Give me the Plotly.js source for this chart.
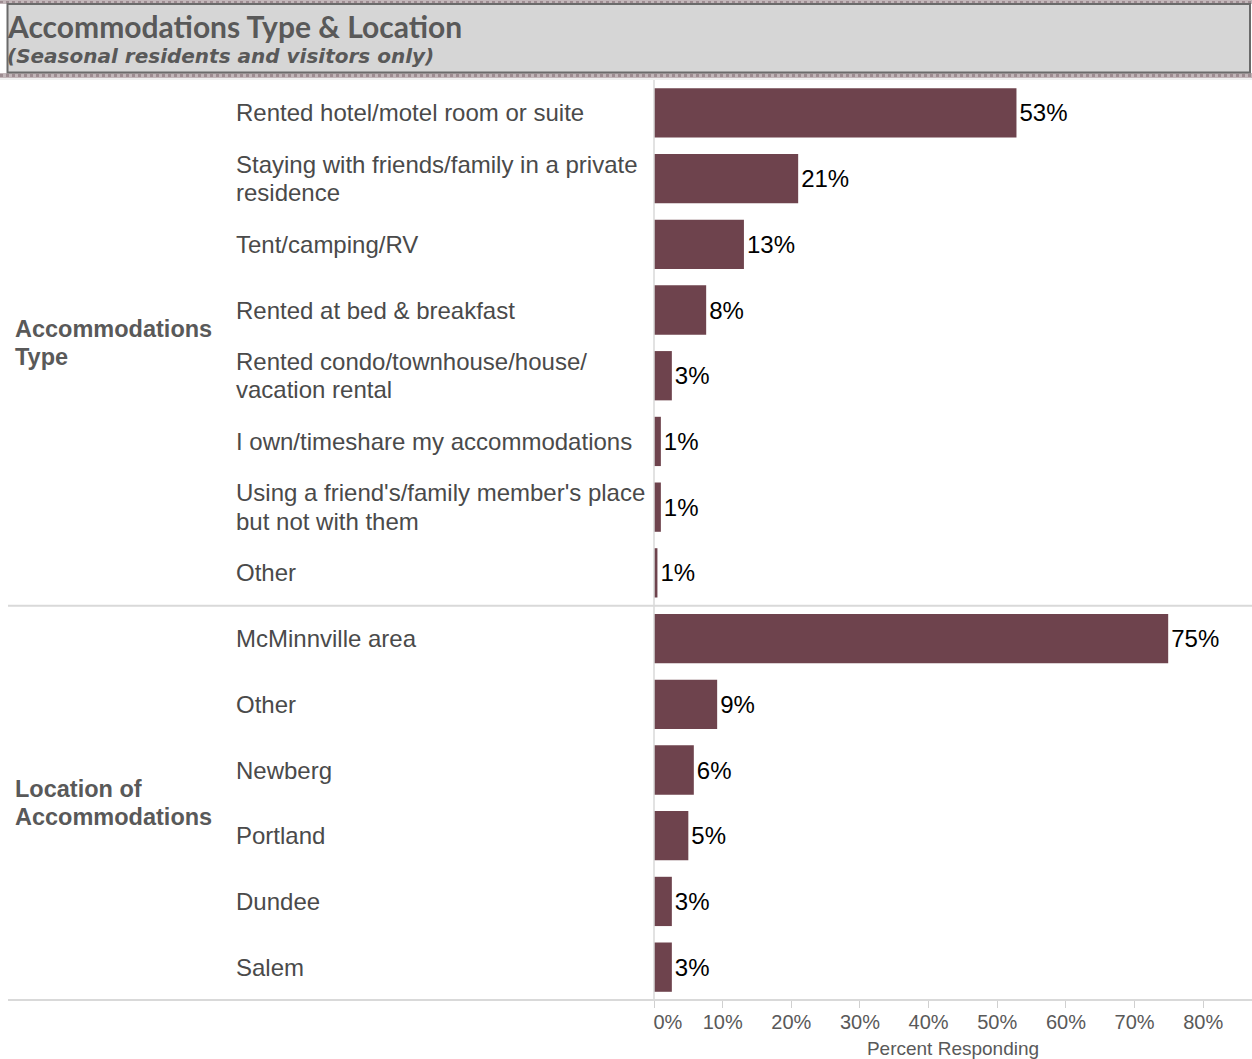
<!DOCTYPE html>
<html>
<head>
<meta charset="utf-8">
<script src="https://cdn.plot.ly/plotly-3.0.1.min.js"></script>
<style>
html,body{margin:0;padding:0;background:#fff;}
#chart{width:1252px;height:1059px;}
</style>
</head>
<body>
<div id="chart"></div>
<script>
// ---- Data ----
const groupNames = ["Accommodations<br>Type", "Location of<br>Accommodations"];
const accomCats = [
  "Rented hotel/motel room or suite",
  "Staying with friends/family in a private<br>residence",
  "Tent/camping/RV",
  "Rented at bed & breakfast",
  "Rented condo/townhouse/house/<br>vacation rental",
  "I own/timeshare my accommodations",
  "Using a friend's/family member's place<br>but not with them",
  "Other"
];
const accomVals = [52.8, 21.0, 13.1, 7.6, 2.6, 1.0, 1.0, 0.5];
const accomLabels = ["53%", "21%", "13%", "8%", "3%", "1%", "1%", "1%"];
const locCats = ["McMinnville area", "Other", "Newberg", "Portland", "Dundee", "Salem"];
const locVals = [74.9, 9.2, 5.8, 5.0, 2.6, 2.6];
const locLabels = ["75%", "9%", "6%", "5%", "3%", "3%"];
const xTickVals = [0, 10, 20, 30, 40, 50, 60, 70, 80];
const xTickText = ["0%", "10%", "20%", "30%", "40%", "50%", "60%", "70%", "80%"];

// ---- Build ----
const W = 1252, H = 1059;
const ML = 654, MR = 0, MT = 80, MB = 59;
const PW = W - ML - MR, PH = H - MT - MB;
const ROW = PH / (accomCats.length + locCats.length);
const px2x = p => (p - ML) / PW;
const py2y = p => (H - MB - p) / PH;

const cats = accomCats.concat(locCats);
const vals = accomVals.concat(locVals);
const labs = accomLabels.concat(locLabels);
const ypos = cats.map((c, i) => i);

const barColor = "#6e434d";
const labelFont = "Liberation Sans, Arial, sans-serif";

const trace = {
  type: "bar",
  orientation: "h",
  x: vals,
  y: ypos,
  width: 0.75,
  marker: {color: barColor},
  text: labs,
  texttemplate: "%{text}",
  textposition: "outside",
  textfont: {family: labelFont, size: 24, color: "#000"},
  cliponaxis: false,
  hoverinfo: "skip"
};

const annotations = [];
const lineGap = 28.5 / ROW; // spacing between wrapped lines, in row units
cats.forEach((c, i) => {
  const lines = c.split("<br>");
  lines.forEach((ln, j) => {
    const off = (j - (lines.length - 1) / 2) * lineGap;
    annotations.push({
      xref: "paper", yref: "y", x: px2x(234), y: i + off,
      xanchor: "left", yanchor: "middle", align: "left",
      text: ln, showarrow: false,
      font: {family: labelFont, size: 24, color: "#4a4a4a"}
    });
  });
});
const groupY = [(accomCats.length - 1) / 2, accomCats.length + (locCats.length - 1) / 2];
groupNames.forEach((g, k) => {
  const lines = g.split("<br>");
  lines.forEach((ln, j) => {
    const off = (j - (lines.length - 1) / 2) * lineGap;
    annotations.push({
      xref: "paper", yref: "y", x: px2x(13), y: groupY[k] + off,
      xanchor: "left", yanchor: "middle", align: "left",
      text: "<b>" + ln + "</b>", showarrow: false,
      font: {family: labelFont, size: 23.5, color: "#595959"}
    });
  });
});
// header title
annotations.push({
  xref: "paper", yref: "paper", x: px2x(5), y: py2y(26),
  xanchor: "left", yanchor: "middle", align: "left",
  text: "<b>Accommodations Type &amp; Location</b>", showarrow: false,
  font: {family: "Lato, sans-serif", size: 30, color: "#595959"}
});
annotations.push({
  xref: "paper", yref: "paper", x: px2x(5), y: py2y(56),
  xanchor: "left", yanchor: "middle", align: "left",
  text: "<b><i>(Seasonal residents and visitors only)</i></b>", showarrow: false,
  font: {family: "DejaVu Sans, sans-serif", size: 20, color: "#595959"}
});

const sepY = accomCats.length - 0.5;
const shapes = [
  // hatched strips
  {type: "rect", xref: "paper", yref: "paper", x0: px2x(0), x1: px2x(1252), y0: py2y(0), y1: py2y(4), fillcolor: "#c2b6b9", line: {width: 0}, layer: "below"},
  {type: "rect", xref: "paper", yref: "paper", x0: px2x(0), x1: px2x(1252), y0: py2y(73), y1: py2y(78), fillcolor: "#c2b6b9", line: {width: 0}, layer: "below"},
  {type: "line", xref: "paper", yref: "paper", x0: px2x(0), x1: px2x(1252), y0: py2y(2), y1: py2y(2), line: {color: "#9d8c91", width: 2, dash: "dot"}},
  {type: "line", xref: "paper", yref: "paper", x0: px2x(0), x1: px2x(1252), y0: py2y(75.5), y1: py2y(75.5), line: {color: "#9d8c91", width: 3, dash: "dot"}},
  // header box
  {type: "rect", xref: "paper", yref: "paper", x0: px2x(7.5), x1: px2x(1250), y0: py2y(4), y1: py2y(72.5), fillcolor: "#d6d6d6", line: {color: "#6a6a6a", width: 2}},
  // light line under header
  {type: "line", xref: "paper", yref: "paper", x0: px2x(0), x1: px2x(1252), y0: py2y(79), y1: py2y(79), line: {color: "#e0e0e0", width: 1}},
  // group separator
  {type: "line", xref: "paper", yref: "y", x0: px2x(8), x1: 1, y0: sepY, y1: sepY, line: {color: "#d9d9d9", width: 2}},
  // bottom line
  {type: "line", xref: "paper", yref: "paper", x0: px2x(8), x1: 1, y0: 0, y1: 0, line: {color: "#d9d9d9", width: 2}},
  // vertical zero line
  {type: "line", xref: "paper", yref: "paper", x0: 0, x1: 0, y0: 0, y1: 1, line: {color: "#d9d9d9", width: 1.5}}
];

// first tick label sits right of the axis line, as in the reference
const tickText = xTickText.map((t, i) => i === 0 ? "\u00a0\u00a0\u00a0\u00a0\u00a0" + t : t);

const layout = {
  width: W, height: H,
  margin: {l: ML, r: MR, t: MT, b: MB, pad: 0},
  paper_bgcolor: "#fff", plot_bgcolor: "#fff",
  showlegend: false,
  xaxis: {
    range: [0, PW / 68.65 * 10],
    tickvals: xTickVals, ticktext: tickText,
    showgrid: false, zeroline: false, showline: false,
    ticks: "outside", ticklen: 7, tickcolor: "#d0d0d0", tickwidth: 1,
    ticklabelstandoff: -3,
    tickfont: {family: labelFont, size: 20, color: "#595959"},
    title: {text: "Percent Responding", font: {family: labelFont, size: 19, color: "#595959"}, standoff: 9},
    fixedrange: true
  },
  yaxis: {
    range: [cats.length - 0.5, -0.5],
    showticklabels: false, showgrid: false, zeroline: false, showline: false,
    ticks: "", fixedrange: true
  },
  annotations: annotations,
  shapes: shapes,
  font: {family: labelFont}
};

Plotly.newPlot("chart", [trace], layout, {displayModeBar: false, staticPlot: true});
</script>
</body>
</html>
